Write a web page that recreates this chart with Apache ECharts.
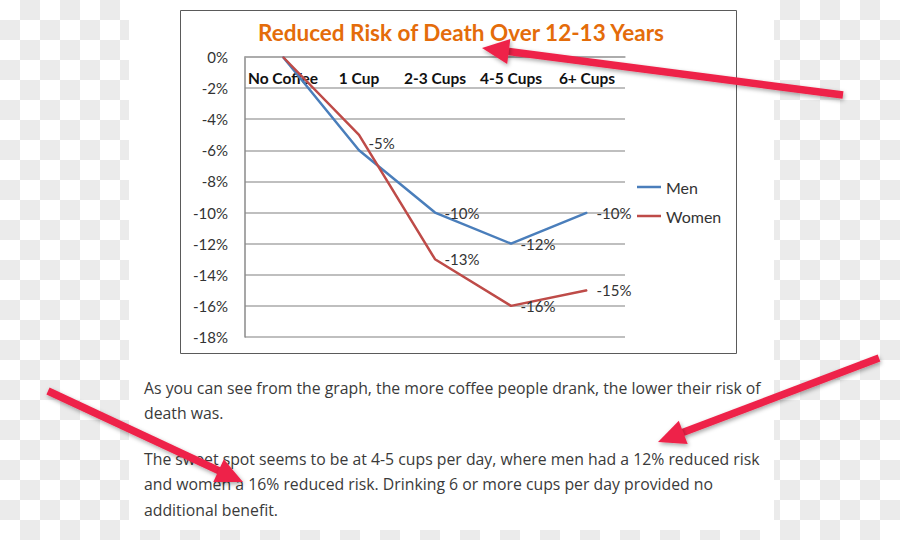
<!DOCTYPE html>
<html>
<head>
<meta charset="utf-8">
<script src="https://cdn.jsdelivr.net/npm/echarts@6/dist/echarts.min.js"></script>
<style>html,body{margin:0;padding:0;background:#fff}#c{width:900px;height:540px}</style>
</head>
<body>
<div id="c"></div>
<script>
// ---- data ----
const categories = ['No Coffee', '1 Cup', '2-3 Cups', '4-5 Cups', '6+ Cups'];
const menValues = [0, -6, -10, -12, -10];
const womenValues = [0, -5, -13, -16, -15];
const menLabeled = [false, false, true, true, true];
const womenLabeled = [false, true, true, true, true];
const yMin = -18, yMax = 0, yStep = 2;
const titleText = 'Reduced Risk of Death Over 12-13 Years';
const paragraphLines = [
  'As you can see from the graph, the more coffee people drank, the lower their risk of',
  'death was.',
  'The sweet spot seems to be at 4-5 cups per day, where men had a 12% reduced risk',
  'and women a 16% reduced risk. Drinking 6 or more cups per day provided no',
  'additional benefit.'
];

// ---- styles / layout ----
const W = 900, H = 540;
const lineBaselines = [396, 421, 467, 492, 518];
const textScaleX = 0.93;
const arrows = [
  {tail: [843, 95], tip: [482, 48]},
  {tail: [879, 358], tip: [658, 442]},
  {tail: [48, 391], tip: [243, 482]}
];
const arrowColor = '#EE2449';
const womenLabelOffsets = {1: [0, 8]};

const graphics = [];
// checkerboard outside the page
const page = {x: 129, y: 0, w: 645, h: 530};
for (let i = 0; i < W / 20; i++) {
  for (let j = 0; j < H / 20; j++) {
    if ((i + j) % 2 === 1) {
      graphics.push({type: 'rect', z: -20, silent: true,
        shape: {x: i * 20, y: j * 20, width: 20, height: 20},
        style: {fill: '#ebebeb'}});
    }
  }
}
graphics.push({type: 'rect', z: -15, silent: true,
  shape: {x: page.x, y: page.y, width: page.w, height: page.h}, style: {fill: '#ffffff'}});
// chart box
graphics.push({type: 'rect', z: -10, silent: true,
  shape: {x: 180.5, y: 10.5, width: 556, height: 343},
  style: {fill: '#ffffff', stroke: '#5a5a5a', lineWidth: 1}});
// paragraph text
paragraphLines.forEach((t, k) => {
  graphics.push({type: 'text', z: 5, x: 144, y: lineBaselines[k], scaleX: textScaleX,
    style: {text: t, fill: '#3a3a3a', font: '17px "Open Sans"', textVerticalAlign: 'bottom'}});
});
// arrows
arrows.forEach(a => {
  const dx = a.tip[0] - a.tail[0], dy = a.tip[1] - a.tail[1];
  const len = Math.hypot(dx, dy), ux = dx / len, uy = dy / len;
  const L = 27, Wd = 12.5;
  const bx = a.tip[0] - ux * L, by = a.tip[1] - uy * L;
  const nx = -uy, ny = ux;
  const shadow = {shadowBlur: 4, shadowColor: 'rgba(0,0,0,0.35)', shadowOffsetX: 1, shadowOffsetY: 2};
  graphics.push({type: 'line', z: 100, silent: true,
    shape: {x1: a.tail[0], y1: a.tail[1], x2: bx + ux * 2, y2: by + uy * 2},
    style: Object.assign({stroke: arrowColor, lineWidth: 7.5, lineCap: 'butt'}, shadow)});
  graphics.push({type: 'polygon', z: 101, silent: true,
    shape: {points: [[a.tip[0], a.tip[1]], [bx + nx * Wd, by + ny * Wd], [bx - nx * Wd, by - ny * Wd]]},
    style: Object.assign({fill: arrowColor}, shadow)});
});

function buildData(values, labeled, offsets) {
  return values.map((v, i) => {
    const lab = {show: labeled[i]};
    if (offsets && offsets[i]) lab.offset = offsets[i];
    return {value: v, label: lab};
  });
}

const chart = echarts.init(document.getElementById('c'), null, {renderer: 'svg', width: W, height: H});
chart.setOption({
  backgroundColor: '#ffffff',
  animation: false,
  title: {
    text: titleText, left: 461, top: 21, textAlign: 'center', padding: 0,
    textStyle: {color: '#E46C0A', fontFamily: 'Lato', fontWeight: 'bold', fontSize: 22.5}
  },
  legend: {
    orient: 'vertical', left: 637, top: 178, icon: 'rect', itemWidth: 24, itemHeight: 2.5,
    itemGap: 11, padding: 0,
    textStyle: {fontFamily: 'Lato', fontSize: 16, color: '#333', lineHeight: 18}
  },
  grid: {left: 245, right: 275, top: 57, bottom: 203, containLabel: false},
  xAxis: {
    type: 'category', data: categories, position: 'top', boundaryGap: true,
    axisLine: {show: true, lineStyle: {color: '#a6a6a6', width: 1.5}},
    axisTick: {show: false},
    axisLabel: {inside: true, interval: 0, margin: 13, color: '#111', fontFamily: 'Lato', fontWeight: 'bold', fontSize: 15.5}
  },
  yAxis: {
    type: 'value', min: yMin, max: yMax, interval: yStep,
    axisLine: {show: true, lineStyle: {color: '#8a8a8a', width: 1.5}},
    axisTick: {show: false},
    splitLine: {show: true, lineStyle: {color: '#aaaaaa', width: 1.5}},
    axisLabel: {formatter: '{value}%', margin: 17, color: '#333', fontFamily: 'Lato', fontSize: 15}
  },
  series: [
    {name: 'Men', type: 'line', data: buildData(menValues, menLabeled),
      symbol: 'circle', symbolSize: 1, z: 3,
      itemStyle: {color: '#4A7EBB'}, lineStyle: {color: '#4A7EBB', width: 2.5},
      label: {position: 'right', distance: 9, formatter: '{c}%', color: '#333', fontFamily: 'Lato', fontSize: 15}},
    {name: 'Women', type: 'line', data: buildData(womenValues, womenLabeled, womenLabelOffsets),
      symbol: 'circle', symbolSize: 1, z: 4,
      itemStyle: {color: '#BE4B48'}, lineStyle: {color: '#BE4B48', width: 2.5},
      label: {position: 'right', distance: 9, formatter: '{c}%', color: '#333', fontFamily: 'Lato', fontSize: 15}}
  ],
  graphic: {elements: graphics}
});
</script>
</body>
</html>
